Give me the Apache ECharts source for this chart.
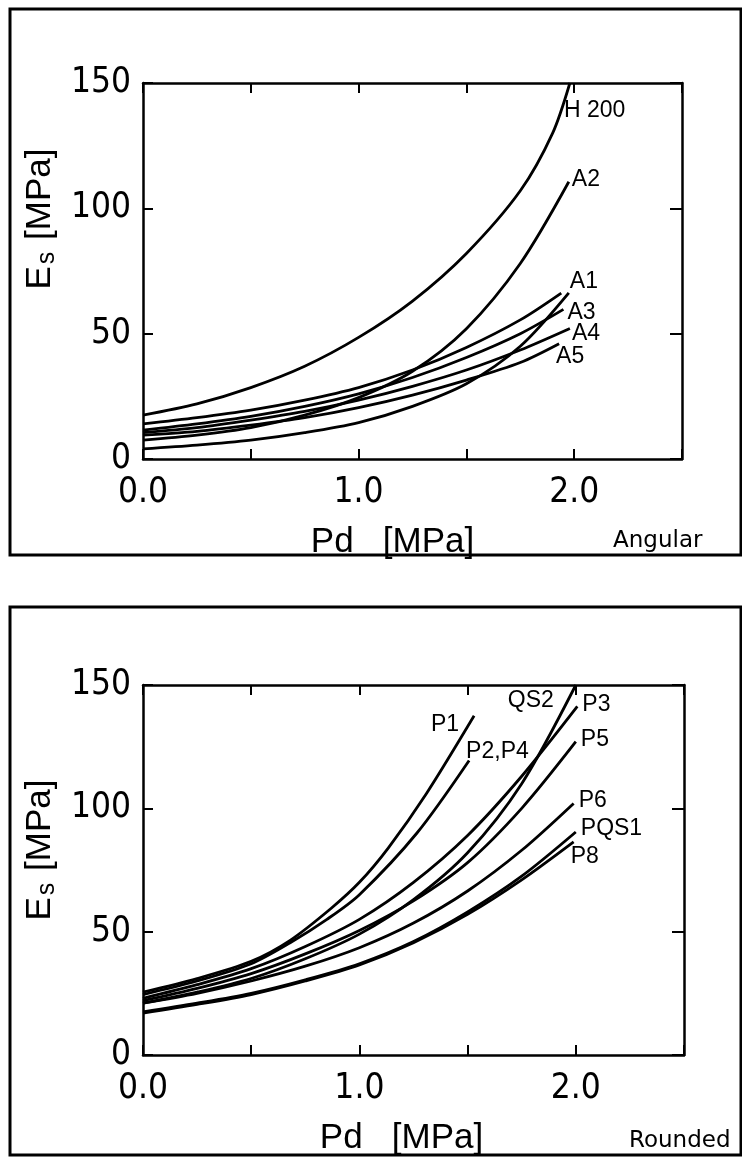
<!DOCTYPE html>
<html>
<head>
<meta charset="utf-8">
<script src="https://cdn.jsdelivr.net/npm/echarts@6/dist/echarts.min.js"></script>
<style>
  html, body { margin: 0; padding: 0; background: #fff; }
  #chart { width: 742px; height: 1157px; }
</style>
</head>
<body>
<div id="chart"></div>
<script>
// ---------- data ----------
const xTickLabelValues = [0, 1, 2];
const yTicks = [0, 50, 100, 150];

// Angular (top panel)
const h200 = [[0,17.5],[0.25,22],[0.5,28.5],[0.75,37],[1.0,48.5],[1.25,63],[1.5,82],[1.75,107],[1.9,130],[1.98,150]];
const a2   = [[0,7.5],[0.25,9.5],[0.5,12.5],[0.75,17.5],[1.0,24.5],[1.25,35],[1.5,52],[1.75,78],[1.975,110.6]];
const a1   = [[0,4],[0.25,5.5],[0.5,7.5],[0.75,10.5],[1.0,14.5],[1.25,21],[1.5,30],[1.75,45],[1.975,66.3]];
const aX   = [[0,14],[0.25,16.5],[0.5,19.5],[0.75,23.5],[1.0,28.5],[1.25,35.5],[1.5,44.5],[1.75,55.5],[1.94,66.2]];
const a3   = [[0,11.5],[0.25,14],[0.5,17],[0.75,21],[1.0,26],[1.25,32.5],[1.5,40.5],[1.75,50],[1.95,59.7]];
const a4   = [[0,10.5],[0.25,12.5],[0.5,15.5],[0.75,19],[1.0,23.5],[1.25,29],[1.5,35.5],[1.75,43.5],[1.98,52.1]];
const a5   = [[0,9.5],[0.25,11],[0.5,13.5],[0.75,16.5],[1.0,20.5],[1.25,25.5],[1.5,31.5],[1.75,38.5],[1.93,46]];

// Rounded (bottom panel)
const p1   = [[0,25.5],[0.25,31],[0.5,38],[0.68,46.5],[0.87,59.5],[1.0,70],[1.134,84],[1.31,106],[1.53,137.5]];
const p2p4 = [[0,24.5],[0.25,30],[0.5,37],[0.68,45.5],[0.85,55],[1.0,65],[1.266,90],[1.507,119.4]];
const qs2  = [[0,21],[0.25,25.5],[0.5,31],[0.75,39],[1.0,49],[1.25,63],[1.5,82],[1.75,110],[2.0,150]];
const p3   = [[0,23],[0.25,28.5],[0.5,35],[0.75,44],[1.0,55],[1.25,70],[1.5,89],[1.75,113],[2.007,141.3]];
const p5   = [[0,22],[0.25,27],[0.5,33],[0.75,41],[1.0,50.5],[1.25,62.5],[1.5,78],[1.75,100],[2.0,127]];
const p6   = [[0,21],[0.25,25],[0.5,30],[0.75,36],[1.0,43.5],[1.25,53.5],[1.5,66.5],[1.75,83],[1.99,102]];
const pqs1 = [[0,17.5],[0.25,21],[0.5,25],[0.75,30.5],[1.0,37],[1.25,46],[1.5,58],[1.75,72.5],[2.0,90.4]];
const p8   = [[0,17],[0.25,20.5],[0.5,24.5],[0.75,30],[1.0,36.5],[1.25,45.5],[1.5,57],[1.75,71],[1.99,86.4]];

const topSeries = [
  { name: 'H 200', data: h200 },
  { name: 'A2', data: a2 },
  { name: 'A1', data: a1 },
  { name: '', data: aX },
  { name: 'A3', data: a3 },
  { name: 'A4', data: a4 },
  { name: 'A5', data: a5 }
];
const bottomSeries = [
  { name: 'P1', data: p1 },
  { name: 'P2,P4', data: p2p4 },
  { name: 'QS2', data: qs2 },
  { name: 'P3', data: p3 },
  { name: 'P5', data: p5 },
  { name: 'P6', data: p6 },
  { name: 'PQS1', data: pqs1 },
  { name: 'P8', data: p8 }
];

// ---------- style ----------
const labelPlace = {
  'H 200': ['left', -6, 28], 'A2': ['left', 3, -2], 'A1': ['left', 1, -11],
  'A3': ['left', 4, 3], 'A4': ['left', 2, 5], 'A5': ['left', -3, 13],
  'P1': ['right', -15, 9], 'P2,P4': ['left', -3, -9], 'QS2': ['right', -22, 16],
  'P3': ['left', 5, -2], 'P5': ['left', 5, -2], 'P6': ['left', 5, -3],
  'PQS1': ['left', 5, -3], 'P8': ['left', -3, 15]
};
const NARROW = '"Liberation Sans Narrow", "DejaVu Sans Condensed", "Liberation Sans", sans-serif';
const SANS = '"Liberation Sans", Arial, sans-serif';

const grids = [
  { left: 143, top: 83, width: 539, height: 376 },
  { left: 143, top: 685, width: 541, height: 372 }
];

function xAxes(gi, namePad) {
  return [
    {
      type: 'value', gridIndex: gi, min: 0, max: 2.5, interval: 0.5, position: 'bottom',
      axisLine: { onZero: false, lineStyle: { color: '#000', width: 2.5 } },
      axisTick: { inside: true, length: 10, lineStyle: { color: '#000', width: 2 } },
      splitLine: { show: false },
      axisLabel: {
        color: '#000', fontFamily: NARROW, fontSize: 35, margin: 16,
        formatter: v => xTickLabelValues.indexOf(v) >= 0 ? v.toFixed(1) : ''
      },
      name: 'Pd   [MPa]', nameLocation: 'middle', nameGap: 66,
      nameTextStyle: { color: '#000', fontFamily: SANS, fontSize: 35, padding: namePad }
    },
    {
      type: 'value', gridIndex: gi, min: 0, max: 2.5, interval: 0.5, position: 'top',
      axisLine: { onZero: false, lineStyle: { color: '#000', width: 2.5 } },
      axisTick: { inside: true, length: 10, lineStyle: { color: '#000', width: 2 } },
      splitLine: { show: false }, axisLabel: { show: false }
    }
  ];
}
function yAxes(gi, namePad) {
  return [
    {
      type: 'value', gridIndex: gi, min: 0, max: 150, interval: 50, position: 'left',
      axisLine: { show: true, onZero: false, lineStyle: { color: '#000', width: 2.5 } },
      axisTick: { show: true, inside: true, length: 10, lineStyle: { color: '#000', width: 2 } },
      splitLine: { show: false },
      axisLabel: {
        color: '#000', fontFamily: NARROW, fontSize: 35, margin: 12,
        formatter: v => yTicks.indexOf(v) >= 0 ? String(v) : ''
      },
      name: 'E{sub|s} [MPa]', nameLocation: 'middle', nameGap: 77,
      nameTextStyle: {
        color: '#000', fontFamily: SANS, fontSize: 35, padding: namePad,
        rich: { sub: { fontFamily: SANS, fontSize: 25, color: '#000', verticalAlign: 'bottom', padding: [14, 2, 0, 2] } }
      }
    },
    {
      type: 'value', gridIndex: gi, min: 0, max: 150, interval: 50, position: 'right',
      axisLine: { show: true, onZero: false, lineStyle: { color: '#000', width: 2.5 } },
      axisTick: { show: true, inside: true, length: 12, lineStyle: { color: '#000', width: 2 } },
      splitLine: { show: false }, axisLabel: { show: false }
    }
  ];
}

function makeSeries(list, gi) {
  return list.map(s => {
    const last = s.data[s.data.length - 1];
    const pl = labelPlace[s.name];
    const ser = {
      type: 'line', name: s.name, data: s.data,
      xAxisIndex: gi * 2, yAxisIndex: gi * 2,
      smooth: 0.3, showSymbol: false, symbol: 'none',
      lineStyle: { color: '#000', width: 2.8 }, silent: true
    };
    if (s.name && pl) {
      ser.markPoint = {
        symbol: 'circle', symbolSize: 1, itemStyle: { color: 'rgba(0,0,0,0)' }, silent: true,
        data: [{ coord: last, value: s.name }],
        label: {
          show: true, formatter: s.name, position: 'inside', align: pl[0], verticalAlign: 'middle',
          offset: [pl[1], pl[2]], color: '#000', fontFamily: SANS, fontSize: 23
        }
      };
    }
    return ser;
  });
}

const chart = echarts.init(document.getElementById('chart'), null, { renderer: 'canvas' });
chart.setOption({
  animation: false,
  backgroundColor: '#fff',
  grid: grids,
  xAxis: [...xAxes(0, [0, 40, 0, 0]), ...xAxes(1, [0, 24, 0, 0])],
  yAxis: [...yAxes(0, [0, 0, 0, 104]), ...yAxes(1, [0, 0, 0, 40])],
  series: [...makeSeries(topSeries, 0), ...makeSeries(bottomSeries, 1)],
  graphic: [
    { type: 'rect', silent: true, shape: { x: 10, y: 9, width: 731, height: 546 }, style: { fill: 'none', stroke: '#000', lineWidth: 3 } },
    { type: 'rect', silent: true, shape: { x: 10, y: 607, width: 731, height: 548 }, style: { fill: 'none', stroke: '#000', lineWidth: 3 } },
    { type: 'text', silent: true, left: 613, top: 530, style: { text: 'Angular', font: '23px "DejaVu Sans", sans-serif', fill: '#000' } },
    { type: 'text', silent: true, left: 629, top: 1130, style: { text: 'Rounded', font: '23px "DejaVu Sans", sans-serif', fill: '#000' } }
  ]
});
</script>
</body>
</html>
